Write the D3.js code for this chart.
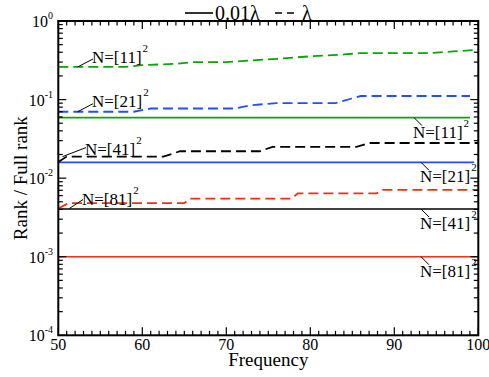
<!DOCTYPE html>
<html>
<head>
<meta charset="utf-8">
<script src="https://cdn.jsdelivr.net/npm/d3@7"></script>
</head>
<body style="margin:0; background:#fff">
<svg id="chart" width="489" height="377" style="display:block"></svg>
<script>
// Data
const xTicks = [50, 60, 70, 80, 90, 100];
const yExps = [0, -1, -2, -3, -4];

// dashed (λ) series: frequency breakpoints + rank ratio
const d11F = [50, 58, 60, 64, 66, 70, 73, 76, 80, 84, 86, 94, 97, 100];
const d11V = [0.26, 0.26, 0.275, 0.285, 0.3, 0.3, 0.315, 0.33, 0.355, 0.375, 0.39, 0.39, 0.41, 0.43];
const d21F = [50, 59, 61, 71, 73, 76, 83, 86, 99];
const d21V = [0.07, 0.07, 0.077, 0.077, 0.085, 0.09, 0.09, 0.111, 0.111];
const d41F = [50, 51, 62.5, 64.5, 74, 75.5, 85.5, 87, 100];
const d41V = [0.0161, 0.0188, 0.0188, 0.022, 0.022, 0.025, 0.025, 0.028, 0.028];
const d81F = [50, 51.2, 65, 65.7, 77.8, 78.5, 87.9, 88.6, 100];
const d81V = [0.0041, 0.0048, 0.0048, 0.0055, 0.0055, 0.0064, 0.0064, 0.0071, 0.0071];

// solid (0.01λ) series are flat
const s11F = [50, 99], s11V = [0.059, 0.059];
const s21F = [50, 99.5], s21V = [0.0159, 0.0159];
const s41F = [50, 100], s41V = [0.00405, 0.00405];
const s81F = [50, 100], s81V = [0.001, 0.001];

const labels = ["11", "21", "41", "81"];
const colors = ["#00aa00", "#1f4fff", "#000000", "#ff2a10"];

const svg = d3.select("#chart");
const m = {left: 58.3, right: 478.3, top: 21, bottom: 335.3};
const x = d3.scaleLinear().domain([50, 100]).range([m.left, m.right]);
const y = d3.scaleLog().domain([1e-4, 1]).range([m.bottom, m.top]);

const zip = (f, v) => f.map((d, i) => [d, v[i]]);
const dashed = [zip(d11F, d11V), zip(d21F, d21V), zip(d41F, d41V), zip(d81F, d81V)];
const solid = [zip(s11F, s11V), zip(s21F, s21V), zip(s41F, s41V), zip(s81F, s81V)];

const line = d3.line().x(d => x(d[0])).y(d => y(d[1]));

// solid lines
svg.append("g").selectAll("path").data(solid).join("path")
    .attr("d", line)
    .attr("fill", "none")
    .attr("stroke", (d, i) => colors[i])
    .attr("stroke-width", 1.6);

// dashed lines
svg.append("g").selectAll("path").data(dashed).join("path")
    .attr("d", line)
    .attr("fill", "none")
    .attr("stroke", (d, i) => colors[i])
    .attr("stroke-width", 1.8)
    .attr("stroke-dasharray", "10 5");

// frame
svg.append("rect")
    .attr("x", m.left).attr("y", m.top)
    .attr("width", m.right - m.left).attr("height", m.bottom - m.top)
    .attr("fill", "none").attr("stroke", "#000").attr("stroke-width", 2);

// x ticks (inside, bottom and top)
const xMinor = d3.range(50, 101, 1).filter(v => v % 10 !== 0);
const tickG = svg.append("g").attr("stroke", "#000").attr("stroke-width", 1.2);
for (const [vals, len] of [[xTicks, 8], [xMinor, 4.5]]) {
    tickG.selectAll(null).data(vals).join("line")
        .attr("x1", d => x(d)).attr("x2", d => x(d))
        .attr("y1", m.bottom).attr("y2", m.bottom - len);
    tickG.selectAll(null).data(vals).join("line")
        .attr("x1", d => x(d)).attr("x2", d => x(d))
        .attr("y1", m.top).attr("y2", m.top + len);
}
// y ticks (inside, left and right)
const yMajor = yExps.map(e => Math.pow(10, e));
const yMinor = [];
for (const e of [-4, -3, -2, -1]) for (let k = 2; k < 10; k++) yMinor.push(k * Math.pow(10, e));
for (const [vals, len] of [[yMajor, 8], [yMinor, 4.5]]) {
    tickG.selectAll(null).data(vals).join("line")
        .attr("y1", d => y(d)).attr("y2", d => y(d))
        .attr("x1", m.left).attr("x2", m.left + len);
    tickG.selectAll(null).data(vals).join("line")
        .attr("y1", d => y(d)).attr("y2", d => y(d))
        .attr("x1", m.right).attr("x2", m.right - len);
}

// x tick labels
svg.append("g").selectAll("text").data(xTicks).join("text")
    .attr("x", d => x(d)).attr("y", m.bottom + 15)
    .attr("text-anchor", "middle")
    .attr("font-size", 16)
    .text(d => d);

// y tick labels 10^e
const yl = svg.append("g").selectAll("text").data(yExps).join("text")
    .attr("x", 53).attr("y", d => y(Math.pow(10, d)) + 6)
    .attr("text-anchor", "end")
    .attr("font-size", 16);
yl.append("tspan").text("10");
yl.append("tspan").attr("font-size", 10).attr("dy", -8).text(d => d);

// axis titles
svg.append("text")
    .attr("x", (m.left + m.right) / 2).attr("y", 366)
    .attr("text-anchor", "middle").attr("font-size", 19)
    .text("Frequency");
svg.append("text")
    .attr("transform", `translate(27, ${(m.top + m.bottom) / 2}) rotate(-90)`)
    .attr("text-anchor", "middle").attr("font-size", 19)
    .text("Rank / Full rank");

// legend
svg.append("line").attr("x1", 185).attr("x2", 213).attr("y1", 13).attr("y2", 13)
    .attr("stroke", "#000").attr("stroke-width", 1.6);
svg.append("text").attr("x", 215).attr("y", 20).attr("font-size", 20).text("0.01λ");
svg.append("line").attr("x1", 275).attr("x2", 295).attr("y1", 13).attr("y2", 13)
    .attr("stroke", "#000").attr("stroke-width", 1.6).attr("stroke-dasharray", "7 5");
svg.append("text").attr("x", 302).attr("y", 20).attr("font-size", 20).text("λ");

// series labels
function nLabel(g, tx, ty, n) {
    const t = g.append("text").attr("x", tx).attr("y", ty).attr("font-size", 17);
    t.append("tspan").text(`N=[${n}]`);
    t.append("tspan").attr("font-size", 11).attr("dy", -11).attr("dx", 1).text("2");
}
const lab = svg.append("g");
// left labels for dashed lines: leader from dashed start to text
const leftSpec = [
    {fx: 52.3, tx: 92, dy: -8, ty: -4},
    {fx: 52.3, tx: 92, dy: -8, ty: -5},
    {fx: 50.5, tx: 85, dy: -9, ty: -7},
    {fx: 51.3, tx: 82, dy: -9, ty: -4}
];
dashed.forEach((s, i) => {
    const sp = leftSpec[i];
    const yy = y(s[i === 2 ? 1 : 0][1]);
    lab.append("line")
        .attr("x1", x(sp.fx)).attr("y1", yy)
        .attr("x2", sp.tx + 1).attr("y2", yy + sp.dy)
        .attr("stroke", "#000").attr("stroke-width", 1);
    nLabel(lab, sp.tx, y(s[0][1]) + sp.ty, labels[i]);
});
// right labels for solid lines
const rightX = [413, 420, 420, 420];
solid.forEach((s, i) => {
    const ly = y(s[0][1]);
    lab.append("line")
        .attr("x1", rightX[i] + 1).attr("y1", ly)
        .attr("x2", rightX[i] + 9).attr("y2", ly + 8)
        .attr("stroke", "#000").attr("stroke-width", 1);
    nLabel(lab, rightX[i], ly + 20, labels[i]);
});

svg.selectAll("text").style("font-family", "'Liberation Serif'");
svg.selectAll("tspan").style("font-family", "'Liberation Serif'");
</script>
</body>
</html>
